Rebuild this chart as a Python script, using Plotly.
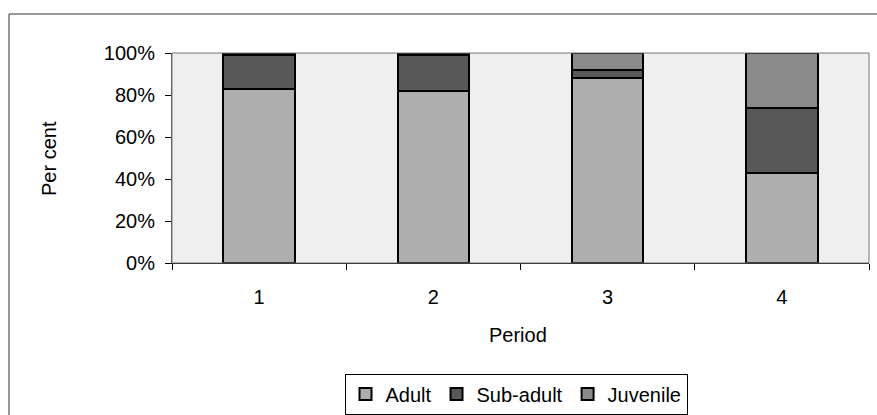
import plotly.graph_objects as go

# Share of each age class per period (fractions of 1)
periods = ["1", "2", "3", "4"]
adult = [0.83, 0.82, 0.88, 0.43]
sub_adult = [0.16, 0.17, 0.04, 0.31]
juvenile = [0.01, 0.01, 0.08, 0.26]
y_ticks = [0, 0.2, 0.4, 0.6, 0.8, 1.0]

W, H = 877, 415
L, R, T, B = 172, 8, 53, 152
pw, ph = W - L - R, H - T - B

font = dict(family="Liberation Sans, Arial, sans-serif", size=20, color="black")

fig = go.Figure()
series = [
    ("Adult", adult, "#aeaeae"),
    ("Sub-adult", sub_adult, "#585858"),
    ("Juvenile", juvenile, "#8a8a8a"),
]
for name, vals, col in series:
    fig.add_trace(go.Bar(
        x=periods, y=vals, name=name,
        marker=dict(color=col, line=dict(color="black", width=2)),
    ))

fig.update_layout(
    width=W, height=H,
    margin=dict(l=L, r=R, t=T, b=B, autoexpand=False),
    barmode="stack", bargap=0.59,
    plot_bgcolor="#efefef", paper_bgcolor="white",
    font=font,
    showlegend=True,
    legend=dict(
        orientation="h", xref="container", yref="container",
        x=516 / W, xanchor="center",
        y=(H - 394) / H, yanchor="middle",
        bordercolor="black", borderwidth=1, bgcolor="white",
        font=font, traceorder="normal", tracegroupgap=0,
    ),
    xaxis=dict(
        type="category", tickson="boundaries", ticks="outside", ticklen=6,
        tickcolor="black", showline=True, linecolor="black", linewidth=1,
        mirror=False, showgrid=False, tickfont=font, ticklabelstandoff=16,
        automargin=False,
    ),
    yaxis=dict(
        range=[0, 1], tickvals=y_ticks, tickformat=".0%", ticks="outside",
        ticklen=6, tickcolor="black", showline=True, linecolor="#555",
        linewidth=1, showgrid=False, tickfont=font, zeroline=False,
        ticklabelstandoff=6, automargin=False,
    ),
)

# Plot area frame (top and right edges)
fig.add_shape(type="rect", xref="paper", yref="paper", x0=0, x1=1, y0=0, y1=1,
              line=dict(color="#777", width=1), layer="above")

# Axis titles
fig.add_annotation(text="Per cent", xref="paper", yref="paper",
                   x=(49 - L) / pw, y=(H - B - 158) / ph, textangle=-90,
                   showarrow=False, font=font, xanchor="center", yanchor="middle")
fig.add_annotation(text="Period", xref="paper", yref="paper",
                   x=(518 - L) / pw, y=(H - B - 335) / ph,
                   showarrow=False, font=font, xanchor="center", yanchor="middle")

# Outer chart border
fig.add_shape(type="rect", xref="paper", yref="paper",
              x0=(9 - L) / pw, x1=(W + 5 - L) / pw,
              y0=(H - B - (H + 5)) / ph, y1=(H - B - 14) / ph,
              line=dict(color="#333", width=1), layer="below")

fig.write_html("out.html")
